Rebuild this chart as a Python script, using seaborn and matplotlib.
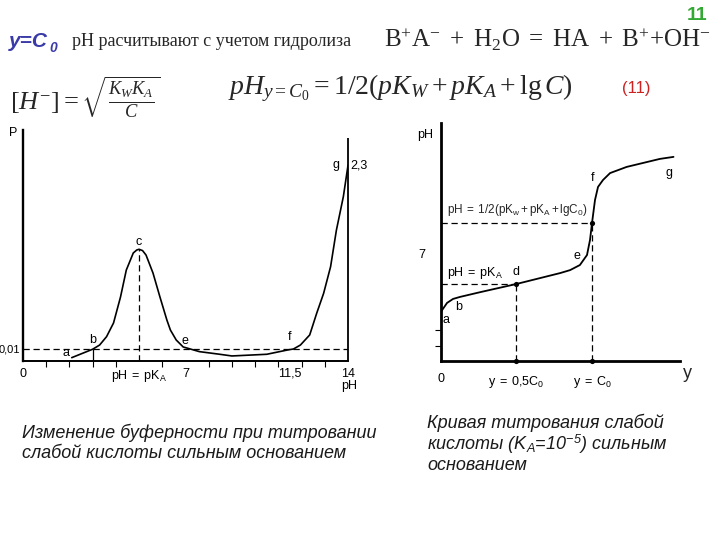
import matplotlib
matplotlib.use('Agg')
import matplotlib.pyplot as plt
import seaborn as sns
import pandas as pd
from matplotlib import font_manager

# ---------------- data ----------------
# Left chart: buffer capacity P vs pH
buf_ph = [2.1, 3.0, 3.3, 3.6, 3.9, 4.05, 4.2, 4.45, 4.75, 4.9, 5.0, 5.15, 5.3, 5.6, 5.9, 6.2,
          6.35, 6.6, 6.9, 7.6, 8.4, 9.0, 10.5, 11.4, 11.65, 11.95, 12.35, 12.65, 12.95, 13.25,
          13.5, 13.8, 14.0]
buf_p = [0.0028, 0.0098, 0.0133, 0.0203, 0.0317, 0.0425, 0.0533, 0.0758, 0.0900, 0.0925, 0.0931,
         0.0920, 0.0883, 0.0733, 0.0533, 0.0340, 0.0258, 0.0175, 0.0117, 0.0078, 0.0058, 0.0042,
         0.0056, 0.0092, 0.0100, 0.0133, 0.0217, 0.0397, 0.0564, 0.0786, 0.1090, 0.1370, 0.1630]
pKa = 5.0
p_level = 0.01
left_xtick_vals = [0, 5, 7, 11.5, 14]
left_xtick_labels = ['0', r'$\mathtt{pH\ =\ pK_A}$', '7', '11,5', '14']

# Right chart: titration curve pH vs y (fraction of C0)
titr_y = [0.0, 0.04, 0.08, 0.126, 0.26, 0.5, 0.79, 0.855, 0.92, 0.967, 0.987, 1.0, 1.02,
          1.04, 1.073, 1.12, 1.23, 1.34, 1.45, 1.54]
titr_ph = [3.2, 3.77, 4.03, 4.16, 4.47, 5.0, 5.71, 5.9, 6.23, 6.88, 7.86, 8.94, 10.45,
           11.3, 11.75, 12.2, 12.6, 12.86, 13.12, 13.25]
ph_eq = 8.94
right_xtick_vals = [0, 0.5, 1.0]
right_xtick_labels = ['0', r'$\mathtt{y\ =\ 0{,}5C_0}$', r'$\mathtt{y\ =\ C_0}$']

# ---------------- style ----------------
sns.set_style('white')
def has_font(name):
    try:
        font_manager.findfont(name, fallback_to_default=False)
        return True
    except Exception:
        return False
narrow = 'Liberation Sans Narrow' if has_font('Liberation Sans Narrow') else 'Liberation Sans'
plt.rcParams['font.family'] = ['Liberation Sans', 'DejaVu Sans']
plt.rcParams['mathtext.fontset'] = 'custom'
plt.rcParams['mathtext.rm'] = 'Liberation Serif'
plt.rcParams['mathtext.it'] = 'Liberation Serif:italic'
plt.rcParams['mathtext.bf'] = 'Liberation Serif:bold'
plt.rcParams['mathtext.sf'] = 'Liberation Sans:italic'
plt.rcParams['mathtext.tt'] = narrow

W, H = 720, 540
fig = plt.figure(figsize=(7.2, 5.4), dpi=100)
fig.patch.set_facecolor('white')

def fx(px):
    return px / W
def fy(py):
    return 1 - py / H

small = dict(family=narrow, fontsize=9, color='black')

# ---------------- left chart ----------------
axL = fig.add_axes([fx(23), fy(361), (348 - 23) / W, (361 - 130) / H])
dfL = pd.DataFrame({'pH': buf_ph, 'P': buf_p})
sns.lineplot(data=dfL, x='pH', y='P', ax=axL, color='black', lw=1.2, sort=False, estimator=None)
axL.set_xlim(0, 14)
axL.set_ylim(0, 0.1925)
axL.set_xlabel('')
axL.set_ylabel('')
for s in ['top', 'right']:
    axL.spines[s].set_visible(False)
axL.spines['left'].set_linewidth(1.7)
axL.spines['bottom'].set_linewidth(1.4)
axL.spines['left'].set_color('black')
axL.spines['bottom'].set_color('black')
axL.axhline(p_level, color='black', lw=0.9, ls=(0, (5, 3)))
axL.vlines(pKa, 0, max(buf_p[:15]), color='black', lw=0.9, ls=(0, (5, 3)))
axL.vlines(buf_ph[1], 0, p_level, color='black', lw=0.9)
axL.vlines(14, 0, 0.186, color='black', lw=1.3, clip_on=False)
axL.set_xticks(range(15), minor=True)
axL.set_xticks(left_xtick_vals)
axL.set_xticklabels(left_xtick_labels, **small)
axL.set_yticks([p_level])
axL.set_yticklabels(['0,01'], family=narrow, fontsize=8, color='black')
axL.tick_params(axis='x', which='minor', direction='out', length=4, width=0.8, color='black', bottom=True)
axL.tick_params(axis='x', which='major', length=0, pad=5)
axL.tick_params(axis='y', which='major', length=0, pad=2)
axL.patch.set_alpha(0)
for txt, x, y in [('a', 1.85, 0.0067), ('b', 3.02, 0.0175), ('c', 5.0, 0.099),
                  ('e', 6.98, 0.0167), ('f', 11.5, 0.02), ('g', 13.49, 0.163), ('2,3', 14.45, 0.163)]:
    axL.text(x, y, txt, ha='center', va='center', clip_on=False, **small)
fig.text(fx(13), fy(133), 'P', ha='center', va='center', **small)
fig.text(fx(349), fy(386), 'pH', ha='center', va='center', **small)

# ---------------- right chart ----------------
axR = fig.add_axes([fx(441), fy(361), (680 - 441) / W, (361 - 123) / H])
dfR = pd.DataFrame({'y': titr_y, 'pH': titr_ph})
sns.lineplot(data=dfR, x='y', y='pH', ax=axR, color='black', lw=1.3, sort=False, estimator=None)
axR.set_xlim(0, 1.583)
axR.set_ylim(0, 15.45)
for s in ['top', 'right']:
    axR.spines[s].set_visible(False)
axR.spines['left'].set_linewidth(2.0)
axR.spines['bottom'].set_linewidth(2.0)
axR.spines['left'].set_color('black')
axR.spines['bottom'].set_color('black')
dash = dict(color='black', lw=0.9, ls=(0, (5, 3)))
axR.hlines(pKa, 0, 0.5, **dash)
axR.vlines(0.5, 0, pKa, **dash)
axR.hlines(ph_eq, 0, 1.0, **dash)
axR.vlines(1.0, 0, ph_eq, **dash)
dots = pd.DataFrame({'y': [0.5, 1.0, 0.5, 1.0], 'pH': [pKa, ph_eq, 0, 0]})
sns.scatterplot(data=dots, x='y', y='pH', ax=axR, color='black', s=14, edgecolor='black',
                linewidth=0, clip_on=False, zorder=5)
axR.set_xlabel('')
axR.set_ylabel('')
axR.set_xticks(right_xtick_vals)
axR.set_xticklabels(right_xtick_labels, **small)
axR.set_yticks([7])
axR.set_yticklabels(['7'], **small)
axR.set_yticks([1, 2], minor=True)
axR.tick_params(axis='x', which='major', length=0, pad=9)
axR.tick_params(axis='y', which='major', length=0, pad=11)
axR.tick_params(axis='y', which='minor', direction='out', length=4, width=0.8, color='black', left=True)
axR.patch.set_alpha(0)
for txt, x, y in [('a', 0.033, 2.66), ('b', 0.12, 3.5), ('d', 0.5, 5.78), ('e', 0.9, 6.82),
                  ('f', 1.007, 11.88), ('g', 1.51, 12.2)]:
    axR.text(x, y, txt, ha='center', va='center', clip_on=False, **small)
axR.text(0.04, 5.71, r'$\mathtt{pH\ =\ pK_A}$', ha='left', va='center', **small)
axR.text(0.04, 9.8, r'$\mathtt{pH\ =\ 1/2(pK_w+pK_A+lgC_0)}$', ha='left', va='center',
         family=narrow, fontsize=8.5)
fig.text(fx(425), fy(135), 'pH', ha='center', va='center', **small)
fig.text(fx(687), fy(374), 'y', ha='center', va='center', family=narrow, fontsize=13)

# ---------------- header ----------------
fig.text(fx(697), fy(15), '11', ha='center', va='center', fontsize=14, weight='bold', color='#33a833')
fig.text(fx(9), fy(42), 'y=C', ha='left', va='center', fontsize=15, weight='bold', style='italic',
         color='#3a3aa8')
fig.text(fx(49), fy(48), '0', ha='left', va='center', fontsize=10, weight='bold', style='italic',
         color='#3a3aa8')
fig.text(fx(72), fy(42), 'pH расчитывают с учетом гидролиза', ha='left', va='center',
         family='Liberation Serif', fontsize=13)
fig.text(fx(384), fy(40), r'$\mathrm{B^{+}A^{-}\ +\ H_{2}O\ =\ HA\ +\ B^{+}{+}OH^{-}}$',
         ha='left', va='center', fontsize=18)
fig.text(fx(10), fy(97), r'$[H^{-}] = \sqrt{\frac{K_W K_A}{C}}$', ha='left', va='center', fontsize=19)
fig.text(fx(228), fy(88), r'$pH_{y=C_0} = 1/2(pK_W + pK_A + \mathrm{lg}\,C)$', ha='left',
         va='center', fontsize=20)
fig.text(fx(622), fy(88), '(11)', ha='left', va='center', fontsize=12, color='#cc2222')

# ---------------- captions ----------------
cap = dict(ha='left', va='center', fontsize=13, style='italic', color='#1a1a1a')
fig.text(fx(22), fy(433), 'Изменение буферности при титровании', **cap)
fig.text(fx(22), fy(453), 'слабой кислоты сильным основанием', **cap)
fig.text(fx(427), fy(423), 'Кривая титрования слабой', **cap)
fig.text(fx(427), fy(444), r'кислоты ($\mathsf{K_A}$=10$^{\mathsf{-5}}$) сильным', **cap)
fig.text(fx(427), fy(465), 'основанием', **cap)

fig.savefig('out.png', dpi=100, facecolor='white')
